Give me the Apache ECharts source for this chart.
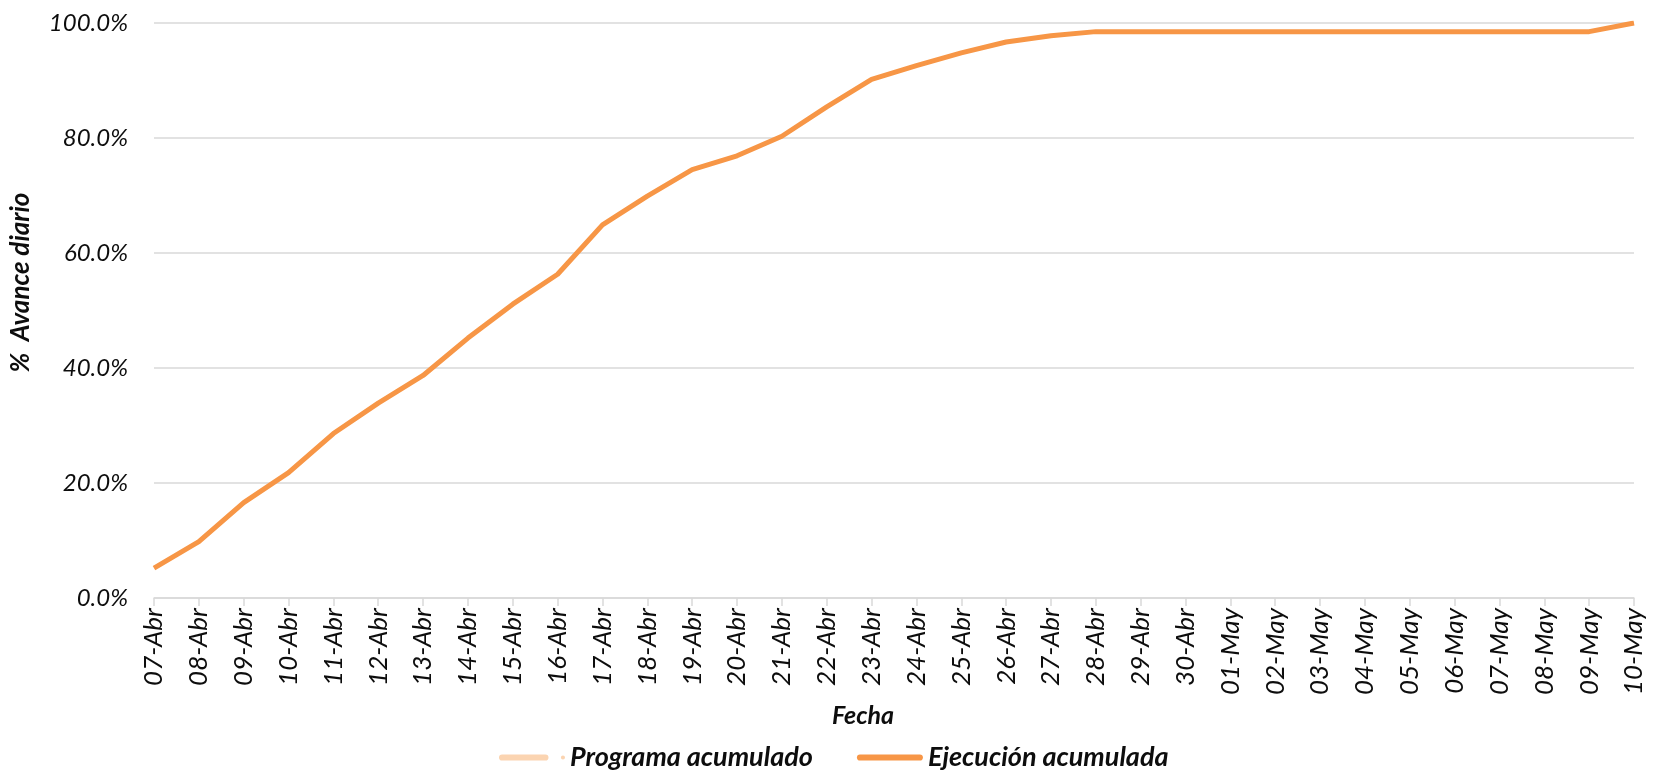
<!DOCTYPE html>
<html>
<head>
<meta charset="utf-8">
<script src="https://cdn.jsdelivr.net/npm/echarts@6/dist/echarts.min.js"></script>
<style>
  html, body { margin: 0; padding: 0; background: #fff; }
  #chart { width: 1667px; height: 771px; }
</style>
</head>
<body>
<div id="chart"></div>
<script>
// Fechas del periodo
const fechas = [
  '07-Abr','08-Abr','09-Abr','10-Abr','11-Abr','12-Abr','13-Abr','14-Abr','15-Abr','16-Abr',
  '17-Abr','18-Abr','19-Abr','20-Abr','21-Abr','22-Abr','23-Abr','24-Abr','25-Abr','26-Abr',
  '27-Abr','28-Abr','29-Abr','30-Abr','01-May','02-May','03-May','04-May','05-May','06-May',
  '07-May','08-May','09-May','10-May'
];

// Avance acumulado programado (sin registros)
const programaAcumulado = [];

// Avance acumulado ejecutado (fracción de 1)
const ejecucionAcumulada = [
  0.052, 0.098, 0.166, 0.218, 0.286, 0.339, 0.387, 0.452, 0.511, 0.563,
  0.649, 0.699, 0.745, 0.769, 0.803, 0.854, 0.902, 0.926, 0.948, 0.967,
  0.978, 0.985, 0.985, 0.985, 0.985, 0.985, 0.985, 0.985, 0.985, 0.985,
  0.985, 0.985, 0.985, 1.000
];

// Marcas del eje vertical
const yTicks = { min: 0, max: 1, interval: 0.2 };

const FONT = 'Lato, "Open Sans", sans-serif';
const TEXT_COLOR = '#0d0d0d';

// Iconos de leyenda: trazo grueso redondeado (con punto para el programa)
const ICON_LINEA_PUNTO = 'path://M3,2 H45 A3,3 0 0 1 45,8 H3 A3,3 0 0 1 3,2 Z M62,3 A2,2 0 1 1 62,7 A2,2 0 1 1 62,3 Z';
const ICON_LINEA = 'path://M3,2 H61 A3,3 0 0 1 61,8 H3 A3,3 0 0 1 3,2 Z';

const chart = echarts.init(document.getElementById('chart'), null, { renderer: 'canvas' });

chart.setOption({
  backgroundColor: '#ffffff',
  animation: false,
  grid: { left: 154, right: 33, top: 23, bottom: 173, containLabel: false },
  legend: {
    left: 494,
    top: 739,
    itemWidth: 66,
    itemHeight: 10,
    itemGap: 44,
    textStyle: { fontFamily: FONT, fontSize: 27, fontStyle: 'italic', fontWeight: 'bold', color: TEXT_COLOR },
    data: [
      { name: 'Programa acumulado', icon: ICON_LINEA_PUNTO },
      { name: 'Ejecución acumulada', icon: ICON_LINEA }
    ]
  },
  xAxis: {
    type: 'category',
    data: fechas,
    boundaryGap: false,
    name: 'Fecha',
    nameLocation: 'middle',
    nameGap: 104,
    nameTextStyle: {
      fontFamily: FONT, fontSize: 25, fontStyle: 'italic', fontWeight: 'bold', color: TEXT_COLOR,
      padding: [0, 62, 0, 0]
    },
    axisLine: { lineStyle: { color: '#D9D9D9', width: 1.5 } },
    axisTick: { show: true, alignWithLabel: true, length: 8, lineStyle: { color: '#D9D9D9', width: 1.5 } },
    axisLabel: {
      interval: 0,
      rotate: 90,
      margin: 10,
      fontFamily: FONT, fontSize: 26, fontStyle: 'italic', color: TEXT_COLOR
    },
    splitLine: { show: false }
  },
  yAxis: {
    type: 'value',
    min: yTicks.min,
    max: yTicks.max,
    interval: yTicks.interval,
    name: '%  Avance diario',
    nameLocation: 'middle',
    nameGap: 120,
    nameTextStyle: {
      fontFamily: FONT, fontSize: 26, fontStyle: 'italic', fontWeight: 'bold', color: TEXT_COLOR,
      padding: [0, 0, 0, 56]
    },
    axisLine: { show: false },
    axisTick: { show: false },
    axisLabel: {
      margin: 26,
      fontFamily: FONT, fontSize: 24, fontStyle: 'italic', color: TEXT_COLOR,
      formatter: v => (v * 100).toFixed(1) + '%'
    },
    splitLine: { lineStyle: { color: '#D9D9D9', width: 1.5 } }
  },
  series: [
    {
      name: 'Programa acumulado',
      type: 'line',
      data: programaAcumulado,
      symbol: 'circle',
      symbolSize: 5,
      itemStyle: { color: '#FBD4B1' },
      lineStyle: { color: '#FBD4B1', width: 5 }
    },
    {
      name: 'Ejecución acumulada',
      type: 'line',
      data: ejecucionAcumulada,
      symbol: 'none',
      showSymbol: false,
      itemStyle: { color: '#F79646' },
      lineStyle: { color: '#F79646', width: 5, join: 'round' }
    }
  ]
});
</script>
</body>
</html>
